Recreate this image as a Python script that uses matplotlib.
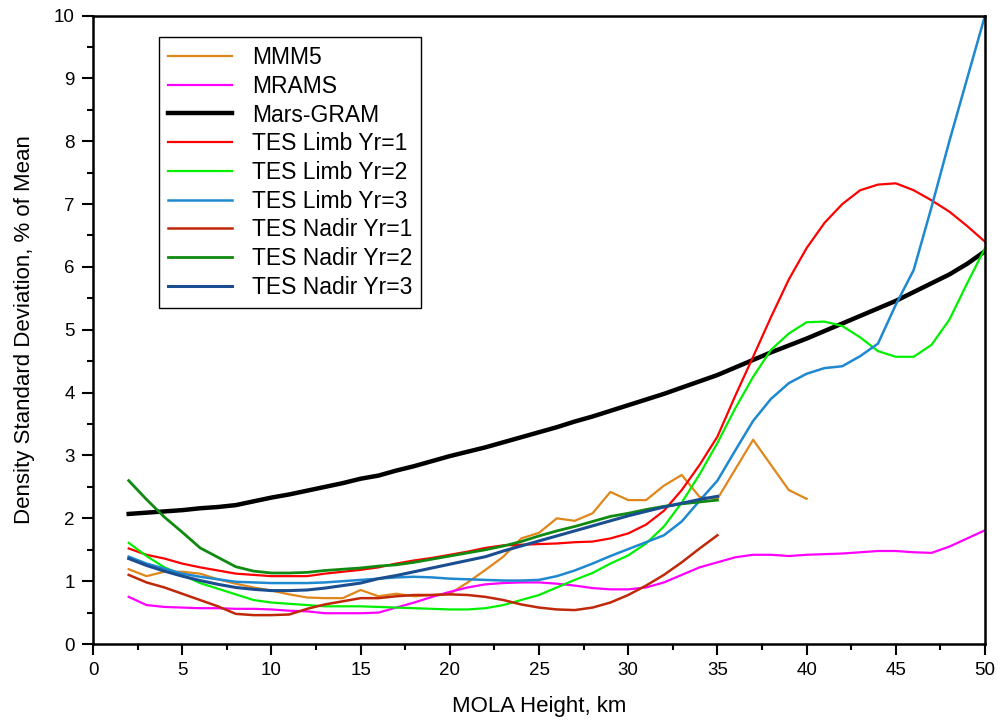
import matplotlib
matplotlib.use("Agg")
import matplotlib.pyplot as plt
from matplotlib.ticker import MultipleLocator

plt.rcParams['font.family'] = ['Liberation Sans', 'DejaVu Sans']

# heights (km) for each series
h_full = list(range(2, 51))
h_35 = list(range(2, 36))
h_40 = list(range(2, 41))

mmm5 = [1.19, 1.08, 1.15, 1.15, 1.12, 1.03, 0.96, 0.90, 0.85, 0.79,
        0.74, 0.73, 0.73, 0.86, 0.76, 0.80, 0.76, 0.78, 0.80, 0.98,
        1.18, 1.39, 1.68, 1.77, 2.00, 1.96, 2.08, 2.42, 2.29, 2.29,
        2.52, 2.69, 2.34, 2.31, 2.78, 3.25, 2.85, 2.45, 2.31]

mrams = [0.75, 0.62, 0.59, 0.58, 0.57, 0.57, 0.56, 0.56, 0.55, 0.53,
         0.52, 0.49, 0.49, 0.49, 0.50, 0.58, 0.66, 0.75, 0.83, 0.90,
         0.95, 0.97, 0.98, 0.98, 0.96, 0.93, 0.89, 0.87, 0.87, 0.90,
         0.98, 1.10, 1.22, 1.30, 1.38, 1.42, 1.42, 1.40, 1.42, 1.43,
         1.44, 1.46, 1.48, 1.48, 1.46, 1.45, 1.55, 1.68, 1.81]

mars_gram = [2.07, 2.09, 2.11, 2.13, 2.16, 2.18, 2.21, 2.27, 2.33, 2.38,
             2.44, 2.50, 2.56, 2.63, 2.68, 2.76, 2.83, 2.91, 2.99, 3.06,
             3.13, 3.21, 3.29, 3.37, 3.45, 3.54, 3.62, 3.71, 3.80, 3.89,
             3.98, 4.08, 4.18, 4.28, 4.40, 4.52, 4.64, 4.75, 4.86, 4.98,
             5.10, 5.22, 5.34, 5.46, 5.60, 5.74, 5.88, 6.05, 6.25]

limb1 = [1.52, 1.42, 1.36, 1.28, 1.22, 1.17, 1.12, 1.10, 1.08, 1.08,
         1.08, 1.12, 1.15, 1.18, 1.22, 1.28, 1.33, 1.37, 1.42, 1.47,
         1.53, 1.57, 1.58, 1.59, 1.60, 1.62, 1.63, 1.68, 1.76, 1.90,
         2.12, 2.45, 2.85, 3.30, 3.95, 4.57, 5.20, 5.80, 6.30, 6.70,
         7.00, 7.22, 7.31, 7.33, 7.22, 7.06, 6.88, 6.65, 6.40]

limb2 = [1.61, 1.40, 1.22, 1.10, 0.97, 0.88, 0.79, 0.70, 0.66, 0.64,
         0.62, 0.60, 0.60, 0.60, 0.59, 0.58, 0.57, 0.56, 0.55, 0.55,
         0.57, 0.62, 0.70, 0.78, 0.90, 1.02, 1.13, 1.28, 1.41, 1.60,
         1.87, 2.25, 2.70, 3.20, 3.75, 4.25, 4.68, 4.94, 5.12, 5.13,
         5.06, 4.88, 4.66, 4.57, 4.57, 4.76, 5.16, 5.74, 6.30]

limb3 = [1.39, 1.28, 1.20, 1.12, 1.07, 1.03, 0.99, 0.98, 0.97, 0.97,
         0.97, 0.98, 1.00, 1.02, 1.04, 1.06, 1.07, 1.06, 1.04, 1.03,
         1.02, 1.01, 1.01, 1.02, 1.08, 1.17, 1.28, 1.40, 1.51, 1.62,
         1.73, 1.95, 2.28, 2.60, 3.08, 3.55, 3.90, 4.15, 4.30, 4.39,
         4.42, 4.58, 4.78, 5.40, 5.95, 6.95, 8.00, 9.00, 10.0]

nadir1 = [1.10, 0.98, 0.90, 0.80, 0.70, 0.60, 0.48, 0.46, 0.46, 0.47,
          0.56, 0.63, 0.68, 0.73, 0.73, 0.76, 0.78, 0.78, 0.79, 0.78,
          0.75, 0.70, 0.63, 0.58, 0.55, 0.54, 0.58, 0.66, 0.78, 0.93,
          1.10, 1.30, 1.52, 1.73]

nadir2 = [2.60, 2.30, 2.02, 1.78, 1.53, 1.38, 1.23, 1.16, 1.13, 1.13,
          1.14, 1.17, 1.19, 1.21, 1.24, 1.26, 1.30, 1.35, 1.40, 1.45,
          1.50, 1.56, 1.63, 1.72, 1.80, 1.87, 1.95, 2.03, 2.08, 2.14,
          2.19, 2.23, 2.26, 2.29]

nadir3 = [1.36, 1.25, 1.16, 1.08, 1.01, 0.95, 0.90, 0.87, 0.85, 0.85,
          0.86, 0.89, 0.93, 0.97, 1.04, 1.09, 1.15, 1.21, 1.27, 1.33,
          1.39, 1.48, 1.56, 1.64, 1.72, 1.80, 1.88, 1.96, 2.04, 2.11,
          2.18, 2.24, 2.30, 2.35]

fig = plt.figure(figsize=(9.98, 7.22), dpi=100)
ax = fig.add_axes([0.0932, 0.108, 0.8938, 0.8705])

ax.plot(h_40, mmm5, color='#E0861A', lw=1.6, label='MMM5')
ax.plot(h_full, mrams, color='#FF00FF', lw=1.6, label='MRAMS')
ax.plot(h_full, mars_gram, color='black', lw=3.2, label='Mars-GRAM')
ax.plot(h_full, limb1, color='#FF0000', lw=1.6, label='TES Limb Yr=1')
ax.plot(h_full, limb2, color='#00F000', lw=1.6, label='TES Limb Yr=2')
ax.plot(h_full, limb3, color='#1E88D0', lw=1.8, label='TES Limb Yr=3')
ax.plot(h_35, nadir1, color='#C0280A', lw=1.8, label='TES Nadir Yr=1')
ax.plot(h_35, nadir2, color='#108A10', lw=2.0, label='TES Nadir Yr=2')
ax.plot(h_35, nadir3, color='#1A4E90', lw=2.2, label='TES Nadir Yr=3')

ax.set_xlim(0, 50)
ax.set_ylim(0, 10)
ax.xaxis.set_major_locator(MultipleLocator(5))
ax.xaxis.set_minor_locator(MultipleLocator(2.5))
ax.yaxis.set_major_locator(MultipleLocator(1))
ax.yaxis.set_minor_locator(MultipleLocator(0.5))
ax.tick_params(which='major', direction='out', length=8, width=1.5,
               labelsize=13.5, pad=5)
ax.tick_params(which='minor', direction='out', length=4, width=1.5)
for sp in ax.spines.values():
    sp.set_linewidth(1.8)

ax.set_xlabel('MOLA Height, km', fontsize=16, labelpad=12)
ax.set_ylabel('Density Standard Deviation, % of Mean', fontsize=16, labelpad=14)

leg = ax.legend(loc='upper left', bbox_to_anchor=(0.074, 0.966),
                borderaxespad=0, fontsize=16.5, frameon=True, fancybox=False,
                framealpha=1, edgecolor='black', handlelength=2.8,
                handletextpad=0.85, labelspacing=0.25, borderpad=0.4)
leg.get_frame().set_linewidth(1.0)

fig.savefig('out.png', dpi=100)
